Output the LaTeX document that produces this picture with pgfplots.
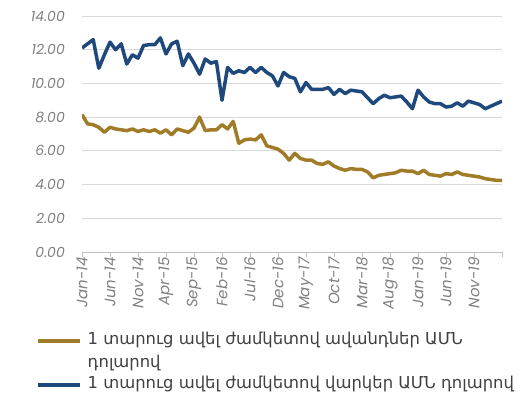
\documentclass[border=0pt]{standalone}
\usepackage{fontspec}
\setmainfont{Poppins}
\newfontfamily\armfont{DejaVu Sans}
\usepackage{pgfplots}
\usepackage{pgfplotstable}
\pgfplotsset{compat=1.18}
\definecolor{blueL}{RGB}{31,73,125}
\definecolor{goldL}{RGB}{160,124,40}
\definecolor{tickgray}{RGB}{128,128,128}
\definecolor{gridgray}{RGB}{217,217,217}
\definecolor{axgray}{RGB}{191,191,191}

\pgfplotstableread{
m dep loan
0 8.15 12.10
1 7.60 12.35
2 7.55 12.60
3 7.40 10.90
4 7.10 11.70
5 7.40 12.45
6 7.30 12.00
7 7.25 12.35
8 7.20 11.15
9 7.30 11.70
10 7.15 11.50
11 7.25 12.25
12 7.15 12.30
13 7.25 12.30
14 7.05 12.70
15 7.25 11.75
16 6.95 12.35
17 7.30 12.50
18 7.20 11.05
19 7.10 11.75
20 7.35 11.20
21 8.00 10.55
22 7.20 11.45
23 7.25 11.20
24 7.25 11.30
25 7.55 9.00
26 7.30 10.95
27 7.75 10.60
28 6.45 10.75
29 6.65 10.65
30 6.70 10.95
31 6.65 10.65
32 6.95 10.95
33 6.30 10.65
34 6.20 10.45
35 6.10 9.85
36 5.85 10.65
37 5.45 10.40
38 5.85 10.30
39 5.55 9.50
40 5.45 10.05
41 5.45 9.65
42 5.25 9.65
43 5.20 9.65
44 5.35 9.75
45 5.10 9.35
46 4.95 9.65
47 4.85 9.40
48 4.95 9.60
49 4.90 9.55
50 4.90 9.50
51 4.75 9.15
52 4.40 8.80
53 4.55 9.10
54 4.60 9.30
55 4.65 9.15
56 4.70 9.20
57 4.85 9.25
58 4.80 8.90
59 4.80 8.50
60 4.65 9.60
61 4.85 9.20
62 4.60 8.90
63 4.55 8.80
64 4.50 8.80
65 4.65 8.60
66 4.60 8.65
67 4.75 8.85
68 4.60 8.65
69 4.55 8.95
70 4.50 8.85
71 4.45 8.75
72 4.35 8.50
73 4.30 8.65
74 4.25 8.80
75 4.25 8.95
}\datatable

\begin{document}
\begin{tikzpicture}
\begin{axis}[name=ax, scale only axis, width=420bp, height=236bp,
 xmin=0, xmax=75, ymin=0, ymax=14,
 xtick={0,5,...,75},
 xticklabels={Jan-14,Jun-14,Nov-14,Apr-15,Sep-15,Feb-16,Jul-16,Dec-16,May-17,Oct-17,Mar-18,Aug-18,Jan-19,Jun-19,Nov-19,{}},
 ytick={0,2,...,14},
 yticklabel={\pgfmathprintnumber[fixed,fixed zerofill,precision=2]{\tick}},
 /pgf/number format/assume math mode=true,
 axis lines*=left,
 x axis line style={draw=axgray, line width=0.8bp, -},
 y axis line style={draw=none},
 ymajorgrids, grid style={gridgray, line width=0.9bp},
 xtick style={draw=axgray, line width=0.8bp},
 ytick style={draw=none},
 tick align=outside, major tick length=5bp,
 ticklabel style={font=\fontsize{14bp}{16bp}\selectfont\itshape, text=tickgray},
 xticklabel style={rotate=90, anchor=east, xshift=2bp, inner sep=2bp, font=\fontsize{15bp}{17bp}\selectfont\itshape},
 yticklabel style={anchor=east, inner sep=0pt, xshift=-12bp},
 legend cell align=left,
 legend style={at={(-0.11,-0.314)}, anchor=north west, draw=none, fill=none, inner sep=0pt,
   font=\armfont\fontsize{16.4bp}{23bp}\selectfont, text=black!75,
   cells={anchor=base west}, row sep=26bp},
 legend image code/.code={\draw[#1, line width=4bp] (0bp,0.33em) -- (42bp,0.33em); \path (46bp,0.33em);},
]
\addplot[goldL, line width=3.5bp, line join=round] table[x=m, y=dep] {\datatable};
\addlegendentry{\begin{tabular}[t]{@{}l@{}}1 տարուց ավել ժամկետով ավանդներ ԱՄՆ\\դոլարով\end{tabular}}
\addplot[blueL, line width=3.5bp, line join=round] table[x=m, y=loan] {\datatable};
\addlegendentry{1 տարուց ավել ժամկետով վարկեր ԱՄՆ դոլարով}
\end{axis}
\pgfresetboundingbox
\path ([xshift=-82bp,yshift=-149bp]ax.south west) rectangle ([xshift=20bp,yshift=16bp]ax.north east);
\end{tikzpicture}
\end{document}
